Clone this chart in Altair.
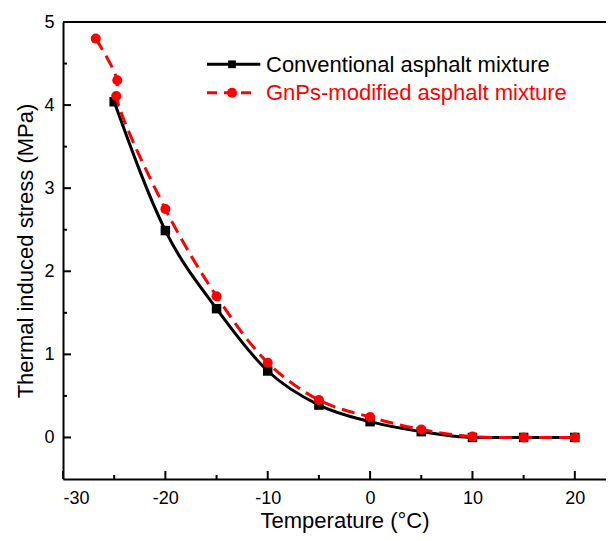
import altair as alt
import pandas as pd

# ---- data ----
temp_conv = [-25, -20, -15, -10, -5, 0, 5, 10, 15, 20]
stress_conv = [4.04, 2.49, 1.55, 0.80, 0.39, 0.19, 0.07, 0.0, 0.0, 0.0]

temp_gnp = [-26.8, -24.7, -24.8, -20, -15, -10, -5, 0, 5, 10, 15, 20]
stress_gnp = [4.80, 4.30, 4.11, 2.75, 1.70, 0.90, 0.45, 0.245, 0.096, 0.01, 0.0, 0.0]

series_names = ["Conventional asphalt mixture", "GnPs-modified asphalt mixture"]
series_colors = ["#000000", "#ff0000"]

x_major = [-30, -20, -10, 0, 10, 20]
x_minor = [-25, -15, -5, 5, 15]
y_major = [0, 1, 2, 3, 4, 5]
y_minor = [0.5, 1.5, 2.5, 3.5, 4.5]

x_title = "Temperature (\u00b0C)"
y_title = "Thermal induced stress (MPa)"

FONT = "Liberation Sans"
W, H = 563, 457

conv = pd.DataFrame({"x": temp_conv, "y": stress_conv})
gnp = pd.DataFrame({"x": temp_gnp, "y": stress_gnp, "i": list(range(len(temp_gnp)))})

xs = alt.Scale(domain=[-30, 25], nice=False, zero=False)
ys = alt.Scale(domain=[-0.5, 5], nice=False, zero=False)

x_axis = alt.Axis(values=x_major, ticks=False, grid=False, labelPadding=10,
                  labelExpr="'' + datum.value",
                  labelFontSize=18, labelFont=FONT, labelColor="black",
                  domainColor="black", domainWidth=2, title=x_title,
                  titleFontSize=22, titleFont=FONT, titleFontWeight="normal",
                  titleColor="black", titleBaseline="alphabetic", titleX=W / 2, titleY=48.5)
y_axis = alt.Axis(values=y_major, ticks=False, grid=False, labelPadding=9,
                  labelExpr="'' + datum.value",
                  labelFontSize=18, labelFont=FONT, labelColor="black",
                  domainColor="black", domainWidth=2, title=y_title,
                  titleFontSize=22, titleFont=FONT, titleFontWeight="normal",
                  titleColor="black", titleBaseline="alphabetic", titleX=-31, titleY=H / 2,
                  titleAngle=270)

X = alt.X("x:Q", scale=xs, axis=x_axis)
Y = alt.Y("y:Q", scale=ys, axis=y_axis)

line_conv = alt.Chart(conv).mark_line(color=series_colors[0], strokeWidth=3, interpolate="monotone").encode(
    x=X, y=Y)
pts_conv = alt.Chart(conv).mark_point(shape="square", filled=True, size=90, opacity=1,
                                      color=series_colors[0]).encode(x=X, y=Y)
line_gnp = alt.Chart(gnp).mark_line(color=series_colors[1], strokeWidth=3, strokeDash=[13, 7],
                                    interpolate="catmull-rom").encode(
    x=X, y=Y, order=alt.Order("i:Q"))
pts_gnp = alt.Chart(gnp).mark_point(shape="circle", filled=True, size=100, opacity=1,
                                    color=series_colors[1]).encode(x=X, y=Y)

# inward ticks
xt_major = alt.Chart(pd.DataFrame({"x": x_major})).mark_rule(color="black", strokeWidth=2).encode(
    x=X, y=alt.value(H), y2=alt.value(H - 8))
xt_minor = alt.Chart(pd.DataFrame({"x": x_minor})).mark_rule(color="black", strokeWidth=2).encode(
    x=X, y=alt.value(H), y2=alt.value(H - 4))
yt_major = alt.Chart(pd.DataFrame({"y": y_major})).mark_rule(color="black", strokeWidth=2).encode(
    y=Y, x=alt.value(0), x2=alt.value(8))
yt_minor = alt.Chart(pd.DataFrame({"y": y_minor})).mark_rule(color="black", strokeWidth=2).encode(
    y=Y, x=alt.value(0), x2=alt.value(4))

one = pd.DataFrame({"a": [0]})
top_frame = alt.Chart(one).mark_rule(color="black", strokeWidth=2).encode(
    x=alt.value(0), x2=alt.value(W), y=alt.value(0))

# manual legend
leg_layers = []
leg_rows_y = [42.3, 70.7]
leg_line_end = [197.3, 189.3]
leg_dash = [[1, 0], [10, 7]]
leg_shapes = ["square", "circle"]
leg_sizes = [60, 100]
for k in range(2):
    leg_layers.append(alt.Chart(one).mark_rule(color=series_colors[k], strokeWidth=3,
                                               strokeDash=leg_dash[k]).encode(
        x=alt.value(144), x2=alt.value(leg_line_end[k]), y=alt.value(leg_rows_y[k])))
    leg_layers.append(alt.Chart(one).mark_point(shape=leg_shapes[k], filled=True, opacity=1,
                                                size=leg_sizes[k], color=series_colors[k]).encode(
        x=alt.value(169), y=alt.value(leg_rows_y[k])))
    leg_layers.append(alt.Chart(one).mark_text(text=series_names[k], color=series_colors[k],
                                               font=FONT, fontSize=22, align="left",
                                               baseline="alphabetic").encode(
        x=alt.value(203), y=alt.value(leg_rows_y[k] + 7.5)))

chart = alt.layer(
    line_conv, pts_conv, line_gnp, pts_gnp,
    xt_major, xt_minor, yt_major, yt_minor, top_frame,
    *leg_layers,
).properties(
    width=W, height=H,
    autosize=alt.AutoSizeParams(type="none"),
    padding={"left": 55, "top": 14, "right": -20, "bottom": 54},
).configure_view(stroke=None)

chart.save("out.html", embed_options={"renderer": "svg", "actions": False})
